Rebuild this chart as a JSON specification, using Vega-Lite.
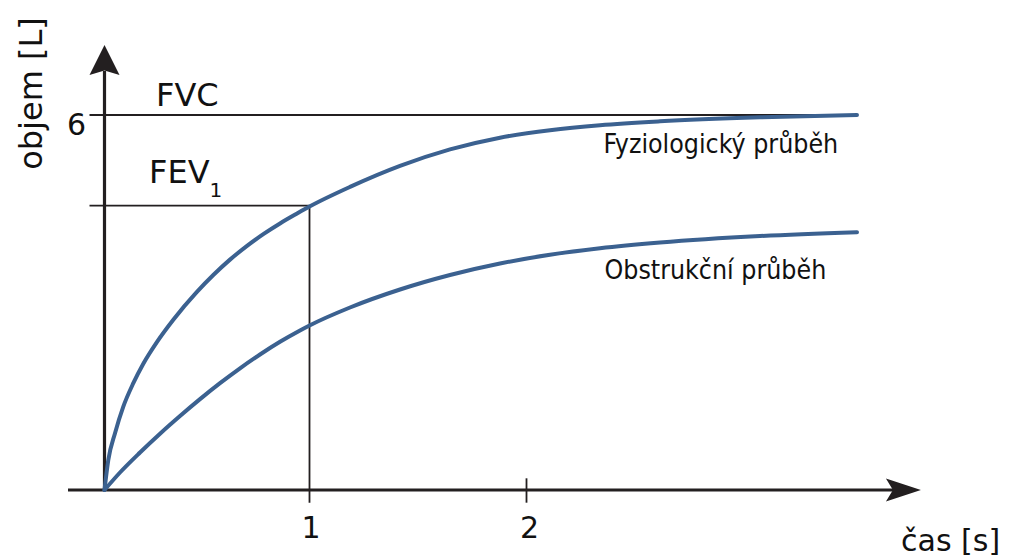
{
  "$schema": "https://vega.github.io/schema/vega-lite/v6.json",
  "width": 1012,
  "height": 557,
  "autosize": "none",
  "padding": 0,
  "background": "white",
  "config": {"view": {"stroke": null}},
  "datasets": {
    "curves": [
      {"series": "Fyziologický", "t": 0.0553, "v": 0},
      {"series": "Fyziologický", "t": 0.0728, "v": 0.48},
      {"series": "Fyziologický", "t": 0.1037, "v": 0.909},
      {"series": "Fyziologický", "t": 0.1419, "v": 1.334},
      {"series": "Fyziologický", "t": 0.188, "v": 1.709},
      {"series": "Fyziologický", "t": 0.2341, "v": 2.021},
      {"series": "Fyziologický", "t": 0.2959, "v": 2.363},
      {"series": "Fyziologický", "t": 0.3724, "v": 2.725},
      {"series": "Fyziologický", "t": 0.4802, "v": 3.166},
      {"series": "Fyziologický", "t": 0.5567, "v": 3.44},
      {"series": "Fyziologický", "t": 0.6336, "v": 3.686},
      {"series": "Fyziologický", "t": 0.7106, "v": 3.902},
      {"series": "Fyziologický", "t": 0.7871, "v": 4.094},
      {"series": "Fyziologický", "t": 0.8641, "v": 4.265},
      {"series": "Fyziologický", "t": 0.941, "v": 4.42},
      {"series": "Fyziologický", "t": 1.0, "v": 4.535},
      {"series": "Fyziologický", "t": 1.1866, "v": 4.849},
      {"series": "Fyziologický", "t": 1.4171, "v": 5.185},
      {"series": "Fyziologický", "t": 1.6475, "v": 5.449},
      {"series": "Fyziologický", "t": 1.8779, "v": 5.637},
      {"series": "Fyziologický", "t": 2.1083, "v": 5.757},
      {"series": "Fyziologický", "t": 2.3387, "v": 5.837},
      {"series": "Fyziologický", "t": 2.6152, "v": 5.899},
      {"series": "Fyziologický", "t": 3.076, "v": 5.963},
      {"series": "Fyziologický", "t": 3.523, "v": 6.0},
      {"series": "Obstrukční", "t": 0.0553, "v": 0},
      {"series": "Obstrukční", "t": 0.1267, "v": 0.28},
      {"series": "Obstrukční", "t": 0.2189, "v": 0.6},
      {"series": "Obstrukční", "t": 0.3111, "v": 0.901},
      {"series": "Obstrukční", "t": 0.4032, "v": 1.184},
      {"series": "Obstrukční", "t": 0.4954, "v": 1.454},
      {"series": "Obstrukční", "t": 0.5876, "v": 1.709},
      {"series": "Obstrukční", "t": 0.6797, "v": 1.947},
      {"series": "Obstrukční", "t": 0.7719, "v": 2.168},
      {"series": "Obstrukční", "t": 0.8641, "v": 2.371},
      {"series": "Obstrukční", "t": 0.9562, "v": 2.552},
      {"series": "Obstrukční", "t": 1.0, "v": 2.632},
      {"series": "Obstrukční", "t": 1.1866, "v": 2.92},
      {"series": "Obstrukční", "t": 1.4171, "v": 3.208},
      {"series": "Obstrukční", "t": 1.6475, "v": 3.44},
      {"series": "Obstrukční", "t": 1.8779, "v": 3.624},
      {"series": "Obstrukční", "t": 2.1083, "v": 3.764},
      {"series": "Obstrukční", "t": 2.3387, "v": 3.868},
      {"series": "Obstrukční", "t": 2.6152, "v": 3.959},
      {"series": "Obstrukční", "t": 3.076, "v": 4.063},
      {"series": "Obstrukční", "t": 3.523, "v": 4.125}
    ],
    "axes": [
      {"name": "čas", "t": -0.1129, "v": 0, "t2": 3.689, "v2": 0},
      {"name": "objem", "t": 0.0553, "v": 0, "t2": 0.0553, "v2": 6.704}
    ],
    "refs": [
      {"name": "FVC", "t": -0.0138, "v": 6.0, "t2": 3.523, "v2": 6.0},
      {"name": "FEV1", "t": -0.0138, "v": 4.549, "t2": 1.0, "v2": 4.549},
      {"name": "t1", "t": 1.0, "v": 4.549, "t2": 1.0, "v2": -0.203},
      {"name": "t2", "t": 2.0, "v": 0.187, "t2": 2.0, "v2": -0.203}
    ],
    "arrowUp": [{"t": 0.0553, "v": 6.88}],
    "arrowRight": [{"t": 3.737, "v": 0}],
    "bigLabels": [
      {"label": "FVC", "t": 0.2926, "v": 6.144},
      {"label": "FEV", "t": 0.2604, "v": 4.907}
    ],
    "xTitle": [{"label": "čas [s]", "t": 3.726, "v": -0.976}],
    "subLabels": [{"label": "1", "t": 0.5392, "v": 4.693}],
    "tickLabels": [
      {"label": "6", "t": -0.0737, "v": 5.68},
      {"label": "1", "t": 1.007, "v": -0.768},
      {"label": "2", "t": 2.014, "v": -0.768}
    ],
    "curveLabels": [
      {"label": "Fyziologický průběh", "t": 2.3548, "v": 5.392},
      {"label": "Obstrukční průběh", "t": 2.3594, "v": 3.376}
    ],
    "yTitle": [{"label": "objem [L]", "t": -0.2327, "v": 6.344}]
  },
  "encoding": {
    "x": {"field": "t", "type": "quantitative", "scale": {"domain": [-0.42627, 4.23733], "nice": false, "zero": false}, "axis": null},
    "y": {"field": "v", "type": "quantitative", "scale": {"domain": [-1.072, 7.84], "nice": false, "zero": false}, "axis": null}
  },
  "layer": [
    {
      "data": {"name": "refs"},
      "mark": {"type": "rule", "color": "#231f20", "strokeWidth": 1.8},
      "encoding": {"x2": {"field": "t2"}, "y2": {"field": "v2"}}
    },
    {
      "data": {"name": "axes"},
      "mark": {"type": "rule", "color": "#231f20", "strokeWidth": 3.2},
      "encoding": {"x2": {"field": "t2"}, "y2": {"field": "v2"}}
    },
    {
      "data": {"name": "arrowUp"},
      "mark": {"type": "point", "shape": "M0,-1L1,1L0,0.7L-1,1Z", "size": 900, "filled": true, "color": "#231f20", "opacity": 1, "strokeWidth": 0}
    },
    {
      "data": {"name": "arrowRight"},
      "mark": {"type": "point", "shape": "M1,0L-1,0.657L-0.6,0L-1,-0.657Z", "size": 1225, "filled": true, "color": "#231f20", "opacity": 1, "strokeWidth": 0}
    },
    {
      "data": {"name": "curves"},
      "mark": {"type": "line", "color": "#3b6190", "strokeWidth": 4, "interpolate": "monotone", "strokeCap": "round"},
      "encoding": {"detail": {"field": "series", "type": "nominal"}, "order": {"field": "t", "type": "quantitative"}}
    },
    {
      "data": {"name": "bigLabels"},
      "mark": {"type": "text", "font": "DejaVu Sans", "fontSize": 32, "align": "left", "baseline": "alphabetic", "color": "#111111"},
      "encoding": {"text": {"field": "label"}}
    },
    {
      "data": {"name": "xTitle"},
      "mark": {"type": "text", "font": "DejaVu Sans", "fontSize": 30, "align": "left", "baseline": "alphabetic", "color": "#111111"},
      "encoding": {"text": {"field": "label"}}
    },
    {
      "data": {"name": "subLabels"},
      "mark": {"type": "text", "font": "DejaVu Sans", "fontSize": 20, "align": "left", "baseline": "alphabetic", "color": "#111111"},
      "encoding": {"text": {"field": "label"}}
    },
    {
      "data": {"name": "tickLabels"},
      "mark": {"type": "text", "font": "DejaVu Sans", "fontSize": 30, "align": "center", "baseline": "alphabetic", "color": "#111111"},
      "encoding": {"text": {"field": "label"}}
    },
    {
      "data": {"name": "curveLabels"},
      "mark": {"type": "text", "font": "'DejaVu Sans Condensed', 'DejaVu Sans', sans-serif", "fontSize": 26.5, "align": "left", "baseline": "alphabetic", "color": "#111111"},
      "encoding": {"text": {"field": "label"}}
    },
    {
      "data": {"name": "yTitle"},
      "mark": {"type": "text", "font": "DejaVu Sans", "fontSize": 32, "align": "center", "baseline": "alphabetic", "angle": 270, "color": "#111111"},
      "encoding": {"text": {"field": "label"}}
    }
  ]
}
